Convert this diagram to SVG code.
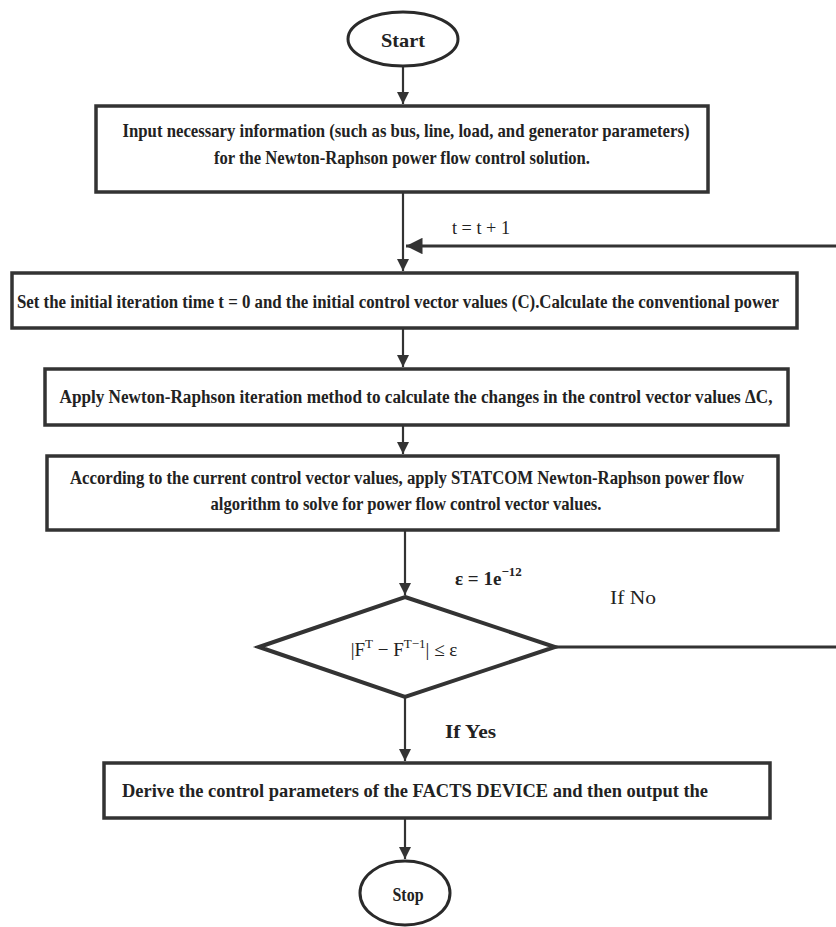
<svg xmlns="http://www.w3.org/2000/svg" width="836" height="927" viewBox="0 0 836 927">
<style>
.box{fill:#fff;stroke:#333;stroke-width:3.5}
.term{fill:#fff;stroke:#2a2a2a;stroke-width:3}
.dia{fill:#fff;stroke:#333;stroke-width:4}
.t{font-family:"Liberation Serif","Times New Roman",serif;font-weight:bold;font-size:19.5px;fill:#222;text-anchor:middle}
.w{font-size:18px}
.lbl{font-family:"Liberation Serif","Times New Roman",serif;font-size:19px;fill:#222}
.lblb{font-family:"Liberation Serif","Times New Roman",serif;font-weight:bold;font-size:19px;fill:#222}
.c{fill:none;stroke:#333;stroke-width:2.2}
.fb{fill:none;stroke:#333;stroke-width:3}
</style>
<defs>
<marker id="ah" viewBox="0 0 10 10" refX="10" refY="5" markerWidth="5.5" markerHeight="5.5" orient="auto" markerUnits="strokeWidth">
<path d="M0,0 L10,5 L0,10 z" fill="#333"/>
</marker>
</defs>
<rect width="836" height="927" fill="#fff"/>

<g id="connectors">
<line class="c" x1="403" y1="66" x2="403" y2="104" marker-end="url(#ah)"/>
<line class="c" x1="403" y1="193" x2="403" y2="271" marker-end="url(#ah)"/>
<line class="fb" x1="836" y1="246" x2="406" y2="246" marker-end="url(#ah)"/>
<line class="c" x1="403" y1="329" x2="403" y2="367" marker-end="url(#ah)"/>
<line class="c" x1="403" y1="426" x2="403" y2="454" marker-end="url(#ah)"/>
<line class="c" x1="405" y1="531" x2="405" y2="595" marker-end="url(#ah)"/>
<line class="fb" x1="555" y1="647" x2="836" y2="647"/>
<line class="c" x1="405" y1="698" x2="405" y2="761" marker-end="url(#ah)"/>
<line class="c" x1="405" y1="819" x2="405" y2="859" marker-end="url(#ah)"/>
<text class="lbl" x="452" y="234" textLength="58" lengthAdjust="spacingAndGlyphs">t = t + 1</text>
<text class="lbl" x="455" y="585" font-weight="bold" font-size="19">ε = 1e<tspan font-size="13" dy="-9">−12</tspan></text>
<text class="lbl" x="610" y="604" font-size="21" textLength="46" lengthAdjust="spacingAndGlyphs">If  No</text>
<text class="lblb" x="445" y="738" textLength="51" lengthAdjust="spacingAndGlyphs">If  Yes</text>
</g>

<g id="start">
<ellipse class="term" cx="403" cy="39" rx="55" ry="27"/>
<text class="t" x="403" y="47" font-size="21" textLength="44" lengthAdjust="spacingAndGlyphs">Start</text>
</g>

<g id="input">
<rect class="box" x="96" y="106" width="612" height="86"/>
<text class="t" x="406" y="137" textLength="567" lengthAdjust="spacingAndGlyphs">Input necessary information (such as bus, line, load, and generator parameters)</text>
<text class="t" x="402" y="164" textLength="376" lengthAdjust="spacingAndGlyphs">for the Newton-Raphson power flow control solution.</text>
</g>

<g id="init">
<rect class="box" x="12" y="273" width="785" height="55"/>
<text class="t w" x="398" y="308" textLength="762" lengthAdjust="spacingAndGlyphs">Set the initial iteration time t = 0 and the initial control vector values (C).Calculate the conventional power</text>
</g>

<g id="apply">
<rect class="box" x="45" y="369" width="743" height="56"/>
<text class="t w" x="416" y="403" textLength="713" lengthAdjust="spacingAndGlyphs">Apply Newton-Raphson iteration method to calculate the changes in the control vector values ΔC,</text>
</g>

<g id="statcom">
<rect class="box" x="47" y="456" width="731" height="74"/>
<text class="t w" x="407" y="484" textLength="674" lengthAdjust="spacingAndGlyphs">According to the current control vector values, apply STATCOM Newton-Raphson power flow</text>
<text class="t" x="406" y="510" textLength="391" lengthAdjust="spacingAndGlyphs">algorithm to solve for power flow control vector values.</text>
</g>

<g id="decision">
<polygon class="dia" points="405,597 555,647 405,697 259,647"/>
<text class="lbl" x="404" y="656" text-anchor="middle" font-size="20">|F<tspan font-size="13" dy="-8">T</tspan><tspan dy="8"> − F</tspan><tspan font-size="13" dy="-8">T−1</tspan><tspan dy="8">| ≤ ε</tspan></text>
</g>

<g id="derive">
<rect class="box" x="104" y="763" width="666" height="55"/>
<text class="t" x="415" y="797" textLength="586" lengthAdjust="spacingAndGlyphs">Derive the control parameters of the FACTS DEVICE and then output the</text>
</g>

<g id="stop">
<ellipse class="term" cx="405" cy="893" rx="45" ry="32"/>
<text class="t" x="408" y="901" font-size="20" textLength="31" lengthAdjust="spacingAndGlyphs">Stop</text>
</g>
</svg>
